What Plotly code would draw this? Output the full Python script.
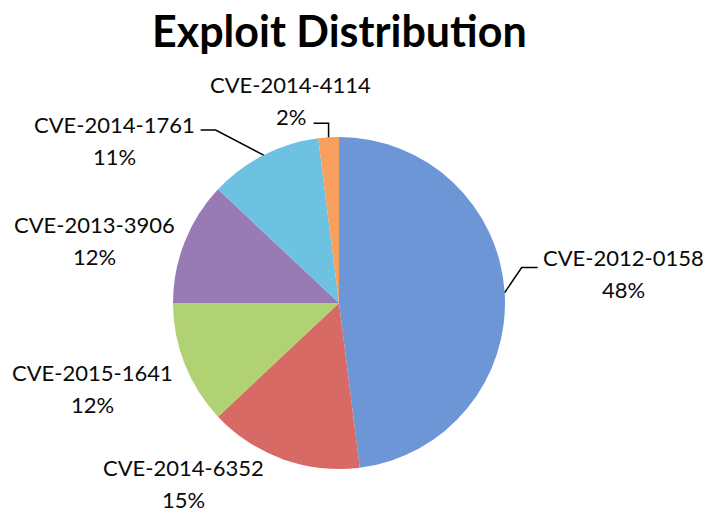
import math
import plotly.graph_objects as go

# ---- data ----
labels = ["CVE-2012-0158", "CVE-2014-6352", "CVE-2015-1641",
          "CVE-2013-3906", "CVE-2014-1761", "CVE-2014-4114"]
values = [48, 15, 12, 12, 11, 2]
colors = ["#6D96D7", "#D86A66", "#B1D272", "#987BB5", "#6CC2E0", "#F79F5D"]
title_text = "Exploit Distribution"

# ---- layout config (pixels) ----
W, H = 709, 513
CX, CY, R = 339, 303, 166
# label block centre offset from slice-edge midpoint (dx, dy) in px
label_offsets = [(119, -19), (-99, 24), (-92, 24), (-90, -1), (-149, -15), (-38, -37)]
# leader lines: (elbow offset from edge point, end offset from edge point) or None
leaders = [((17, -25), (33, -25)), None, None, None, ((-48, -25), (-63, -25)), ((0, -14), (-15, -14))]
LINE_GAP = 16
FONT = "Lato"

def px(x):
    return x / W

def py(y):
    return (H - y) / H

fig = go.Figure()
fig.add_trace(go.Pie(
    labels=labels, values=values, sort=False, direction="clockwise", rotation=0,
    marker=dict(colors=colors, line=dict(width=0)),
    textinfo="none", hoverinfo="label+percent", showlegend=False,
    domain=dict(x=[px(CX - R), px(CX + R)], y=[py(CY + R), py(CY - R)]),
))

total = sum(values)
annotations = []
shapes = []
cum = 0.0
for i, (lab, v) in enumerate(zip(labels, values)):
    mid = (cum + v / 2) / total * 2 * math.pi
    cum += v
    ex = CX + R * math.sin(mid)
    ey = CY - R * math.cos(mid)
    dx, dy = label_offsets[i]
    lx, ly = ex + dx, ey + dy
    pct = f"{round(v / total * 100)}%"
    for txt, yy in ((lab, ly - LINE_GAP), (pct, ly + LINE_GAP)):
        annotations.append(dict(
            x=px(lx), y=py(yy), xref="paper", yref="paper", text=txt,
            showarrow=False, xanchor="center", yanchor="middle", borderpad=0,
            font=dict(family=FONT, size=22, color="#0a0a0a"),
        ))
    if leaders[i] is not None:
        (bx, by), (tx, ty) = leaders[i]
        path = (f"M {px(ex)} {py(ey)} L {px(ex + bx)} {py(ey + by)} "
                f"L {px(ex + tx)} {py(ey + ty)}")
        shapes.append(dict(type="path", xref="paper", yref="paper", path=path,
                           line=dict(color="#000000", width=1.5)))

annotations.append(dict(
    x=px(CX), y=py(30), xref="paper", yref="paper", text=f"<b>{title_text}</b>",
    showarrow=False, xanchor="center", yanchor="middle",
    font=dict(family=FONT, size=43, color="#000000"),
))

fig.update_layout(
    width=W, height=H, margin=dict(l=0, r=0, t=0, b=0),
    paper_bgcolor="white", plot_bgcolor="white",
    annotations=annotations, shapes=shapes,
)
fig.write_html("out.html")
